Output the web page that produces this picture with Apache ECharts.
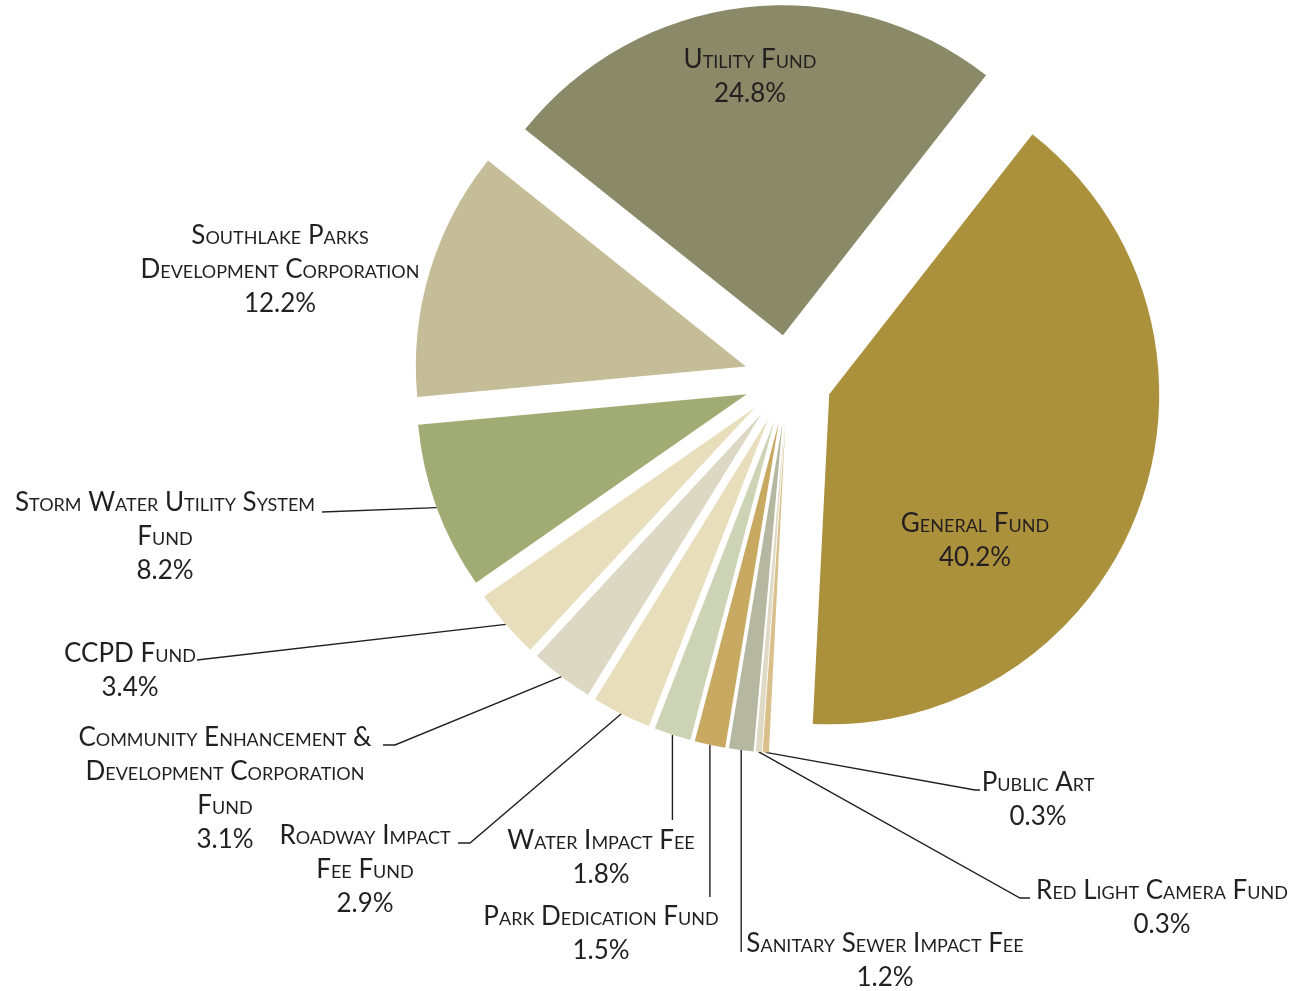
<!DOCTYPE html>
<html><head><meta charset="utf-8">
<script src="https://cdn.jsdelivr.net/npm/echarts@6/dist/echarts.min.js"></script>
<style>html,body{margin:0;padding:0;background:#fff}#c{width:1305px;height:991px}</style>
</head><body><div id="c"></div>
<script>
// ---- data ----
const categories = [
  'General Fund', 'Public Art', 'Red Light Camera Fund', 'Sanitary Sewer Impact Fee',
  'Park Dedication Fund', 'Water Impact Fee', 'Roadway Impact Fee Fund',
  'Community Enhancement & Development Corporation Fund', 'CCPD Fund',
  'Storm Water Utility System Fund', 'Southlake Parks Development Corporation', 'Utility Fund'
];
const values = [40.2, 0.3, 0.3, 1.2, 1.5, 1.8, 2.9, 3.1, 3.4, 8.2, 12.2, 24.8];
const labelNames = [
  'General Fund', 'Public Art', 'Red Light Camera Fund', 'Sanitary Sewer Impact Fee',
  'Park Dedication Fund', 'Water Impact Fee', 'Roadway Impact\nFee Fund',
  'Community Enhancement &\nDevelopment Corporation\nFund', 'CCPD Fund',
  'Storm Water Utility System\nFund', 'Southlake Parks\nDevelopment Corporation', 'Utility Fund'
];
const colors = ['#AC913D', '#D9BF8A', '#DEDAC6', '#B5B7A0', '#C8A962', '#CDD4B6',
  '#E8DEBB', '#DDD8C4', '#E8DEBB', '#A1AC74', '#C4BD98', '#8A8968'];

// ---- layout (not data) ----
const CENTER = [788, 379], RADIUS = 330, OFFSET = 44, START = 52, LH = 34;
// label block centre x, first-line centre y, leader line bends
const labelLayouts = [
  { x: 975, y: 524 },
  { x: 1038, y: 783, pts: [[975, 790], [980, 790]] },
  { x: 1162, y: 891, pts: [[1020, 898], [1030, 898]] },
  { x: 885, y: 944, vert: 952 },
  { x: 601, y: 917, vert: 897 },
  { x: 601, y: 841, vert: 820 },
  { x: 365, y: 836, pts: [[470, 843], [458, 843]] },
  { x: 225, y: 738, pts: [[395, 745], [383, 745]] },
  { x: 130, y: 654, pts: [[197, 660], [197, 660]] },
  { x: 165, y: 503, pts: [[322, 512], [322, 512]] },
  { x: 280, y: 236 },
  { x: 750, y: 60 }
];

const total = values.reduce((a, b) => a + b, 0);
function midAngle(i) {
  let before = 0;
  for (let k = 0; k < i; k++) before += values[k];
  return (START - (before + values[i] / 2) / total * 360) * Math.PI / 180;
}
// exploded centre of slice i
function sliceCenter(i) {
  const a = midAngle(i);
  return [CENTER[0] + Math.cos(a) * OFFSET, CENTER[1] - Math.sin(a) * OFFSET];
}
// outer-arc midpoint of slice i
function arcMid(i) {
  const a = midAngle(i), c = sliceCenter(i);
  return [c[0] + Math.cos(a) * RADIUS, c[1] - Math.sin(a) * RADIUS];
}

const labelStyle = {
  color: '#231F20',
  fontFamily: 'Lato',
  fontStyle: 'small-caps',
  fontSize: 26,
  lineHeight: LH,
  align: 'center',
  formatter: p => labelNames[p.dataIndex] + '\n' + values[p.dataIndex].toFixed(1) + '%'
};

function makeSeries(i) {
  const L = labelLayouts[i];
  const hasLine = !!(L.pts || L.vert);
  return {
    type: 'pie',
    name: categories[i],
    center: sliceCenter(i),
    radius: RADIUS,
    startAngle: START,
    clockwise: true,
    silent: true,
    avoidLabelOverlap: false,
    emphasis: { disabled: true },
    itemStyle: { borderWidth: 0 },
    label: Object.assign({ show: false, position: 'outside' }, labelStyle),
    labelLine: { show: false, lineStyle: { color: '#231F20', width: 1.4 } },
    labelLayout: function (params) {
      if (params.dataIndex !== i) return {};
      const res = { x: L.x, y: L.y - LH / 2, align: 'center', verticalAlign: 'top' };
      const p0 = arcMid(i);
      if (L.pts) res.labelLinePoints = [p0, L.pts[0], L.pts[1]];
      else if (L.vert) res.labelLinePoints = [p0, [p0[0], L.vert], [p0[0], L.vert]];
      return res;
    },
    data: categories.map((name, k) => ({
      name: name,
      value: values[k],
      itemStyle: { color: k === i ? colors[k] : 'rgba(0,0,0,0)' },
      label: { show: k === i },
      labelLine: { show: k === i && hasLine }
    }))
  };
}

const chart = echarts.init(document.getElementById('c'), null, { renderer: 'canvas' });
chart.setOption({
  animation: false,
  backgroundColor: '#ffffff',
  series: categories.map((_, i) => makeSeries(i))
});
</script>
</body></html>
